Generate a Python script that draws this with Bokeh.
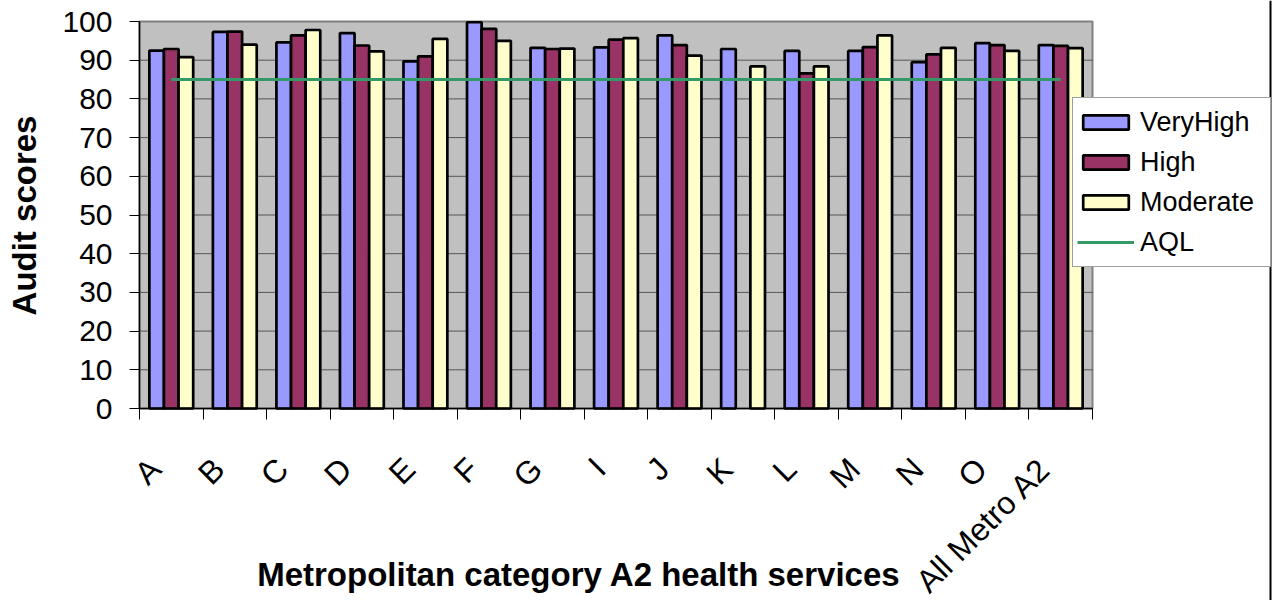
import numpy as np
from math import pi
from bokeh.plotting import figure
from bokeh.models import (ColumnDataSource, Range1d, FixedTicker, Legend, LegendItem,
                          Label, Span)
from bokeh.transform import dodge
from bokeh.embed import file_html
from bokeh.resources import INLINE

# ---------------- data ----------------
categories = ["A", "B", "C", "D", "E", "F", "G", "I", "J", "K", "L", "M", "N", "O", "All Metro A2"]
very_high = [92.5, 97.3, 94.6, 97.0, 89.7, 99.8, 93.2, 93.3, 96.4, 92.9, 92.4, 92.4, 89.5, 94.4, 93.9]
high = [92.9, 97.4, 96.4, 93.8, 91.0, 98.1, 92.9, 95.3, 93.9, float("nan"), 86.6, 93.4, 91.5, 93.9, 93.7]
moderate = [90.8, 94.0, 97.8, 92.3, 95.5, 95.0, 93.0, 95.7, 91.2, 88.4, 88.4, 96.4, 93.2, 92.4, 93.1]
aql = [85] * 15
series_names = ["VeryHigh", "High", "Moderate"]
line_name = "AQL"
y_ticks = [0, 10, 20, 30, 40, 50, 60, 70, 80, 90, 100]
x_title = "Metropolitan category A2 health services"
y_title = "Audit scores"

# ---------------- layout / style ----------------
W, H = 1272, 600                 # canvas
PX_L, PX_R, PX_T, PX_B = 139, 1092, 21, 408   # plot area in canvas pixels
Y_MAX = 100
colors = ["#9999FF", "#993366", "#FFFFCC"]
aql_color = "#339966"
FONT = "Liberation Sans"
BAR_W = 0.23
LABEL_SHIFT = 0.25

n = len(categories)
sx = (PX_R - PX_L) / n
sy = (PX_B - PX_T) / Y_MAX
def dx(px):  # canvas x pixel -> data x
    return (px - PX_L) / sx
def dy(py):  # canvas y pixel -> data y
    return (PX_B - py) / sy

centers = np.arange(n) + 0.5
src = ColumnDataSource(dict(
    x=centers,
    vh=np.array(very_high, dtype=float),
    hi=np.array(high, dtype=float),
    mo=np.array(moderate, dtype=float),
    aql=np.array(aql, dtype=float),
))

p = figure(output_backend="svg", toolbar_location=None, title=None,
           frame_width=W, frame_height=H,
           min_border=0, min_border_left=0, min_border_right=0,
           min_border_top=0, min_border_bottom=0,
           x_range=Range1d(dx(0), dx(W)), y_range=Range1d(dy(H), dy(0)))
p.background_fill_color = "white"
p.border_fill_color = "white"
p.outline_line_color = None
p.xgrid.visible = False
p.ygrid.visible = False

# plot area
p.quad(left=0, right=n, bottom=0, top=Y_MAX, fill_color="#C0C0C0",
       line_color="#808080", line_width=2)
# horizontal gridlines at the tick values
grid_t = [t for t in y_ticks if 0 < t < Y_MAX]
p.segment(x0=[0] * len(grid_t), x1=[n] * len(grid_t), y0=grid_t, y1=grid_t,
          line_color="#555555", line_width=1)

renderers = []
for off, col, c in zip([-BAR_W, 0, BAR_W], ["vh", "hi", "mo"], colors):
    r = p.vbar(x=dodge("x", off), top=col, bottom=0, width=BAR_W, source=src,
               fill_color=c, line_color="black", line_width=2.7)
    renderers.append(r)
line_r = p.line(x="x", y="aql", source=src, line_color=aql_color, line_width=3)

# x axis (fixed at y = 0)
xa = p.xaxis[0]
xa.fixed_location = 0
xa.bounds = (0, n)
lab_pos = [float(c - LABEL_SHIFT) for c in centers]
xa.ticker = FixedTicker(ticks=lab_pos, minor_ticks=list(range(n + 1)))
xa.major_label_overrides = {t: lab for t, lab in zip(lab_pos, categories)}
xa.major_tick_line_color = None
xa.major_tick_out = 0
xa.major_tick_in = 0
xa.minor_tick_line_color = "black"
xa.minor_tick_out = 11
xa.minor_tick_in = 0
xa.axis_line_color = "black"
xa.axis_line_width = 1.5
xa.major_label_orientation = pi / 4
xa.major_label_standoff = 44
xa.major_label_text_font = FONT
xa.major_label_text_font_size = "32px"
xa.major_label_text_color = "black"

# y axis (fixed at x = 0)
ya = p.yaxis[0]
ya.fixed_location = 0
ya.bounds = (0, Y_MAX)
ya.ticker = FixedTicker(ticks=y_ticks)
ya.minor_tick_line_color = None
ya.major_tick_out = 10
ya.major_tick_in = 0
ya.major_tick_line_color = "black"
ya.axis_line_color = "black"
ya.axis_line_width = 1.5
ya.major_label_standoff = 17
ya.major_label_text_font = FONT
ya.major_label_text_font_size = "30px"
ya.major_label_text_color = "black"

# axis titles
p.add_layout(Label(x=dx(578.5), y=dy(574), text=x_title, text_font=FONT, text_font_size="33px",
                   text_font_style="bold", text_align="center", text_baseline="alphabetic",
                   text_color="black"))
p.add_layout(Label(x=dx(24), y=dy(215), text=y_title, angle=pi / 2, text_font=FONT,
                   text_font_size="33px", text_font_style="bold", text_align="center",
                   text_baseline="alphabetic", text_color="black"))

# right border line of the chart area
p.add_layout(Span(location=dx(1270), dimension="height", line_color="black", line_width=2))

legend = Legend(items=[LegendItem(label=nm, renderers=[r]) for nm, r in zip(series_names, renderers)]
                + [LegendItem(label=line_name, renderers=[line_r])],
                location=(1072, H - 267), margin=0, padding=4, spacing=0,
                glyph_width=57, glyph_height=18, label_standoff=6,
                label_height=40, label_width=126,
                label_text_font=FONT, label_text_font_size="27px", label_text_color="black",
                border_line_color="#404040", border_line_width=1,
                background_fill_color="white", background_fill_alpha=1)
p.add_layout(legend)

open("out.html", "w").write(file_html(p, INLINE))
